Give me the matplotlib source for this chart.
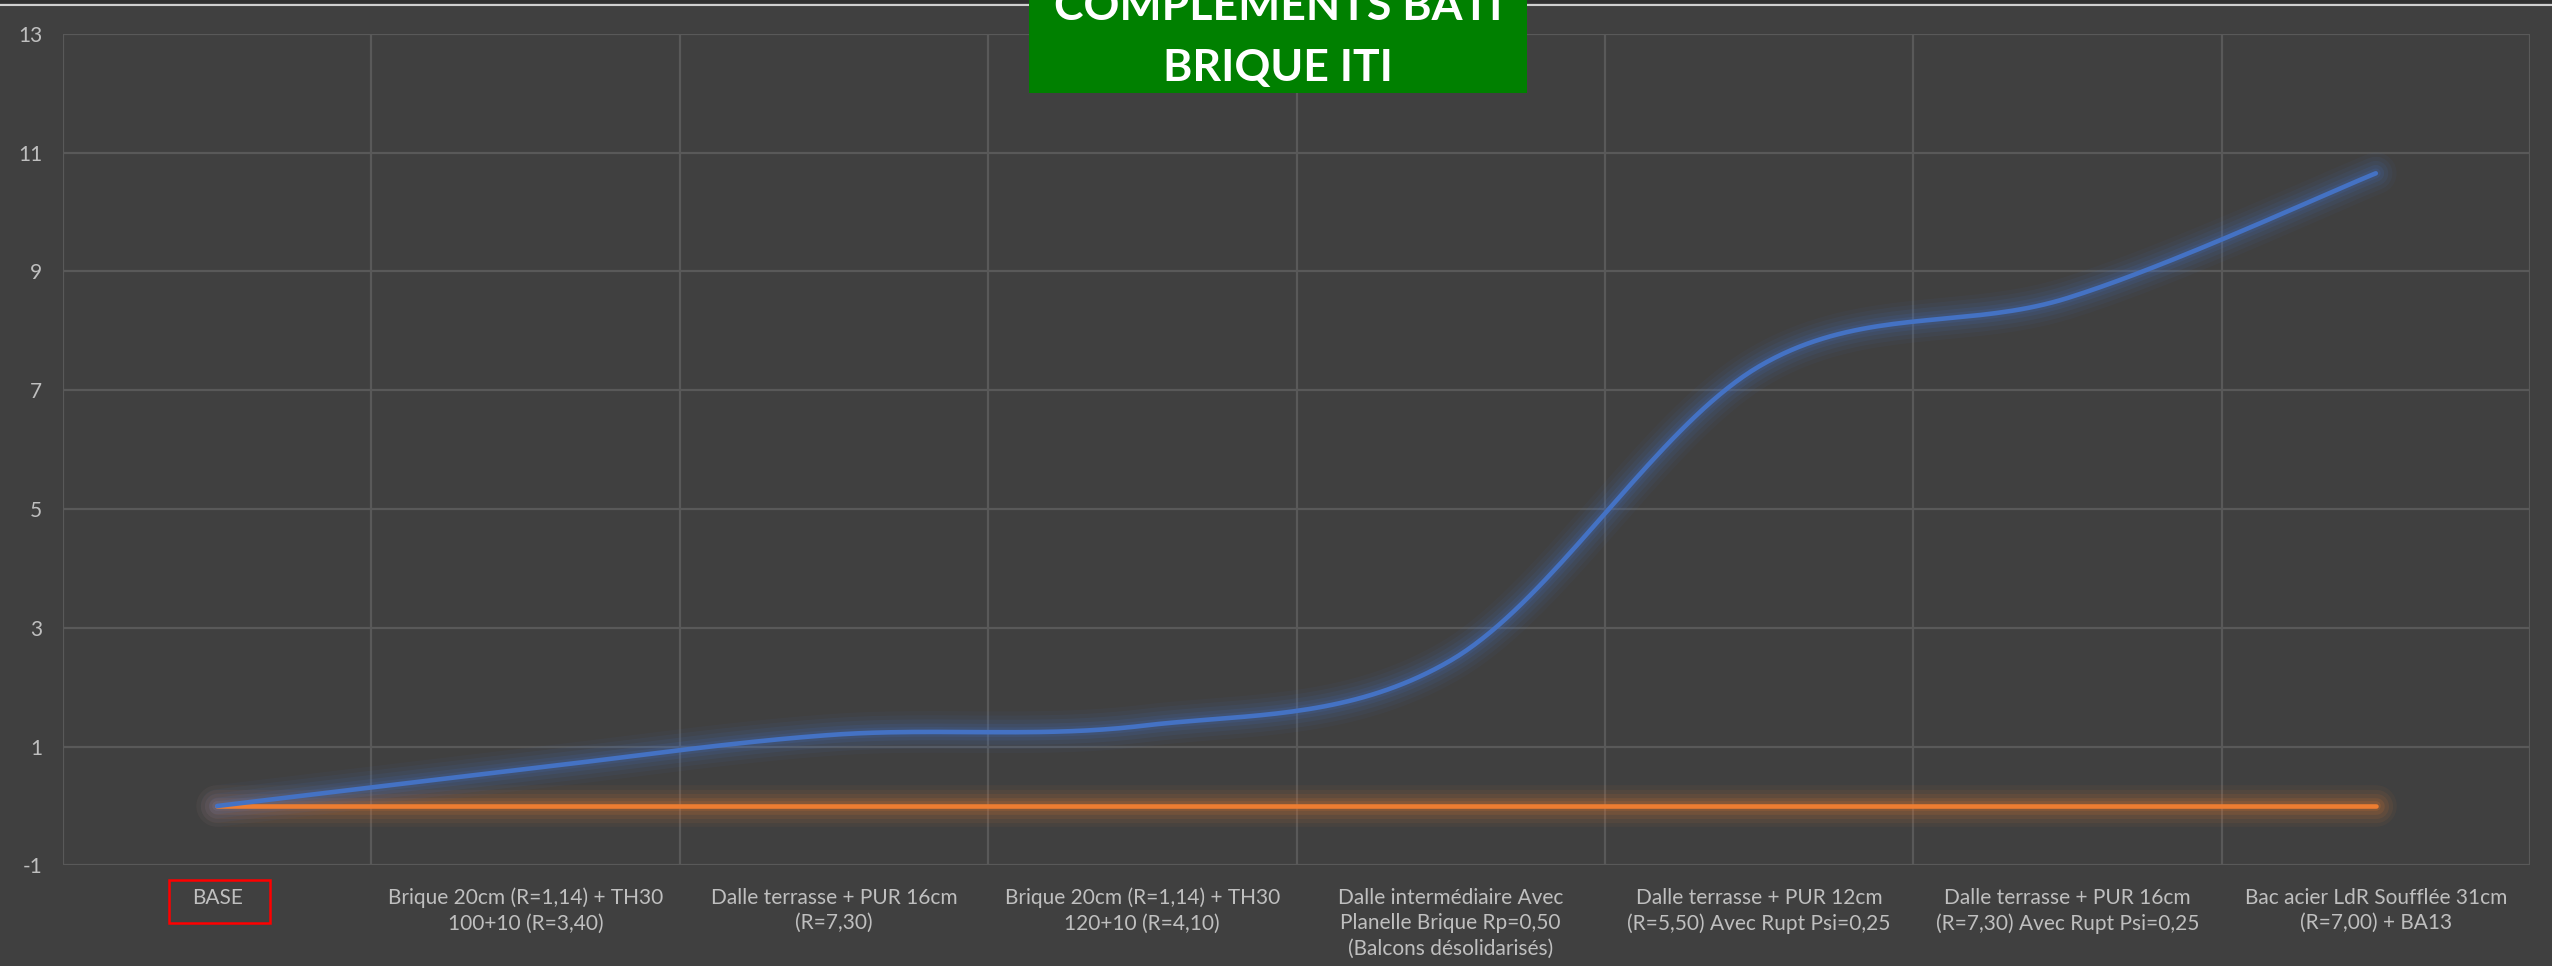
import numpy as np
import matplotlib
matplotlib.use("Agg")
import matplotlib.pyplot as plt
from matplotlib.patches import Rectangle

plt.rcParams["font.family"] = ["Lato", "DejaVu Sans"]
plt.rcParams["axes.unicode_minus"] = False

# ---------------------------------------------------------------------------
# Data
# ---------------------------------------------------------------------------
categories = [
    "BASE",
    "Brique 20cm (R=1,14) + TH30\n100+10 (R=3,40)",
    "Dalle terrasse + PUR 16cm\n(R=7,30)",
    "Brique 20cm (R=1,14) + TH30\n120+10 (R=4,10)",
    "Dalle intermédiaire Avec\nPlanelle Brique Rp=0,50\n(Balcons désolidarisés)",
    "Dalle terrasse + PUR 12cm\n(R=5,50) Avec Rupt Psi=0,25",
    "Dalle terrasse + PUR 16cm\n(R=7,30) Avec Rupt Psi=0,25",
    "Bac acier LdR Soufflée 31cm\n(R=7,00) + BA13",
]
gain_values = [0.0, 0.62, 1.2, 1.35, 2.45, 7.4, 8.55, 10.65]
base_values = [0.0, 0.0, 0.0, 0.0, 0.0, 0.0, 0.0, 0.0]
y_ticks = [-1, 1, 3, 5, 7, 9, 11, 13]

BG = "#404040"
GRID = "#595959"
TXT = "#BFBFBF"
C_BLUE = "#4472C4"
C_ORANGE = "#ED7D31"


def smooth(xs, ys, n=40):
    """Catmull-Rom curve through the points (Excel-like smoothed line)."""
    p = np.column_stack([xs, ys]).astype(float)
    p = np.vstack([p[0], p, p[-1]])
    out = []
    t = np.linspace(0, 1, n)[:, None]
    for i in range(1, len(p) - 2):
        p0, p1, p2, p3 = p[i - 1], p[i], p[i + 1], p[i + 2]
        c1 = p1 + (p2 - p0) / 6
        c2 = p2 - (p3 - p1) / 6
        seg = ((1 - t) ** 3) * p1 + 3 * ((1 - t) ** 2) * t * c1 \
            + 3 * (1 - t) * t ** 2 * c2 + t ** 3 * p2
        out.append(seg if i == 1 else seg[1:])
    out = np.vstack(out)
    return out[:, 0], out[:, 1]


def glow_line(ax, xs, ys, color, lw=3.3):
    sx, sy = smooth(xs, ys)
    for w, a in [(30, 0.05), (24, 0.07), (18, 0.09), (12, 0.12), (7, 0.15)]:
        ax.plot(sx, sy, color=color, lw=w, alpha=a,
                solid_capstyle="round", zorder=3)
    ax.plot(sx, sy, color=color, lw=lw, solid_capstyle="round", zorder=4)


fig = plt.figure(figsize=(25.52, 9.66), dpi=100)
fig.patch.set_facecolor(BG)
ax = fig.add_axes([63 / 2552, 1 - 865.4 / 966,
                   (2530 - 63) / 2552, (865.4 - 33.7) / 966])
ax.set_facecolor(BG)

x = np.arange(len(categories))
ax.set_xlim(-0.5, len(categories) - 0.5)
ax.set_ylim(-1, 13)
ax.set_yticks(y_ticks)
ax.set_xticks(x)
ax.set_xticklabels(categories, fontsize=15, color=TXT, linespacing=1.35)
ax.tick_params(axis="y", labelsize=15, labelcolor=TXT, length=0, pad=15)
ax.tick_params(axis="x", length=0, pad=16)

# category band boundaries as vertical grid
for b in np.arange(-0.5, len(categories), 1.0):
    ax.axvline(b, color=GRID, lw=1.6, zorder=1)
ax.grid(axis="y", color=GRID, lw=1.6, zorder=1)
ax.set_axisbelow(True)
for s in ax.spines.values():
    s.set_visible(False)

glow_line(ax, x, base_values, C_ORANGE)
glow_line(ax, x, gain_values, C_BLUE)

# red frame around the reference case label
fig.add_artist(Rectangle((169 / 2552, 1 - 923 / 966),
                         101 / 2552, 43 / 966,
                         transform=fig.transFigure, fill=False,
                         edgecolor="#FF0000", lw=1.8, zorder=10))

# title box, partly cut by the top edge
fig.add_artist(Rectangle((1029 / 2552, 1 - 93 / 966), 498 / 2552, 93 / 966,
                         transform=fig.transFigure, facecolor="#008000",
                         edgecolor="none", zorder=10))
fig.text(1278 / 2552, 1 - 81 / 966, "COMPLEMENTS BATI\nBRIQUE ITI",
         ha="center", va="baseline", fontsize=32, fontweight="bold",
         color="white", linespacing=1.65, zorder=11,
         transform=fig.transFigure)

# chart border at the top
fig.add_artist(plt.Line2D([0, 1], [1 - 4.5 / 966] * 2, color="#D0D0D0",
                          lw=1.5, transform=fig.transFigure, zorder=9))
fig.add_artist(plt.Line2D([0, 1], [1 - 1 / 966] * 2, color="#303030",
                          lw=2, transform=fig.transFigure, zorder=9))

fig.savefig("out.png", dpi=100, facecolor=BG)
